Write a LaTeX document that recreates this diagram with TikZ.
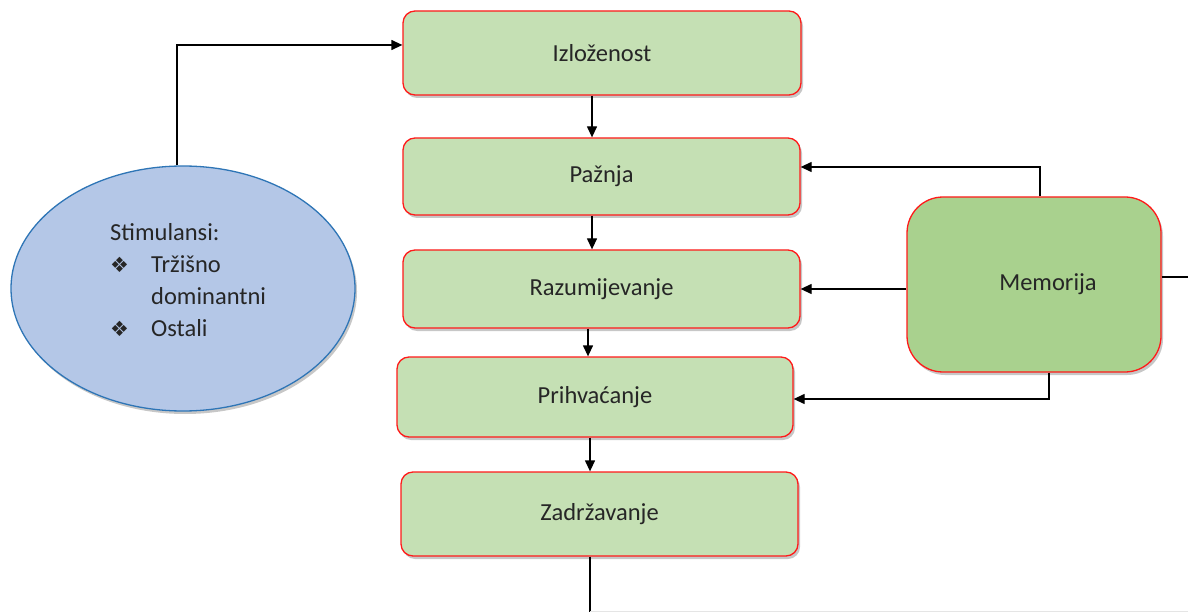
\documentclass[tikz,border=0pt]{standalone}
\usepackage{fontspec}
\setmainfont{Carlito}
\newfontfamily\dejavu{DejaVu Sans}
\usetikzlibrary{shapes.geometric,arrows.meta,shadows}
\definecolor{boxfill}{HTML}{C5E0B4}
\definecolor{memfill}{HTML}{A9D18E}
\definecolor{boxline}{HTML}{FF1A1A}
\definecolor{ellfill}{HTML}{B4C7E7}
\definecolor{ellline}{HTML}{2E75B6}
\definecolor{txt}{HTML}{262626}
\tikzset{
  shad/.style={drop shadow={shadow xshift=2pt,shadow yshift=-3pt,opacity=0.22,fill=black}},
  stepbox/.style={rectangle,rounded corners=12pt,draw=boxline,line width=1.3pt,fill=boxfill,
    shad,inner sep=0pt,text=txt,font=\fontsize{24.5}{28}\selectfont},
  membox/.style={stepbox,fill=memfill,rounded corners=36pt},
  stimell/.style={ellipse,draw=ellline,line width=1.3pt,fill=ellfill,shad,inner sep=0pt},
  conn/.style={draw=black,line width=1.3pt},
  arr/.style={conn,-{Triangle[length=11pt,width=10pt]}}
}
\begin{document}
\begin{tikzpicture}[x=1pt,y=-1pt]
\useasboundingbox (0,0) rectangle (1188,612);
\node[stepbox,minimum width=398pt,minimum height=84pt] (izl) at (602,53) {Izloženost};
\node[stepbox,minimum width=397pt,minimum height=77pt] (paz) at (601.5,176.5) {Pažnja};
\node[stepbox,minimum width=397pt,minimum height=78pt] (raz) at (601.5,289) {Razumijevanje};
\node[stepbox,minimum width=396pt,minimum height=80pt] (pri) at (595,397) {Prihvaćanje};
\node[stepbox,minimum width=397pt,minimum height=84pt] (zad) at (599.5,514) {Zadržavanje};
\node[membox,minimum width=254pt,minimum height=175pt] (mem) at (1034,284.5) {\hspace*{28pt}Memorija};
\node[stimell,minimum width=344pt,minimum height=245pt] (stim) at (183,288.5) {};
\node[text=txt,font=\fontsize{24.5}{32}\selectfont,inner sep=0pt,anchor=north west] (stimtext) at (110,218)
  {\begin{tabular}{@{}p{41pt}@{}l@{}}
   \multicolumn{2}{@{}l@{}}{Stimulansi:}\\
   {\dejavu\fontsize{21}{32}\selectfont ❖} & Tržišno\\
   & dominantni\\
   {\dejavu\fontsize{21}{32}\selectfont ❖} & Ostali
   \end{tabular}};
\coordinate (zadout) at (590,612);
\coordinate (memout) at (1188,277);
% connectors
\draw[arr] ([xshift=-6pt]stim.north) |- ([yshift=8pt]izl.west);
\draw[arr] ([xshift=-10pt]izl.south) -- ([xshift=-10pt]izl.south |- paz.north);
\draw[arr] ([xshift=-9.5pt]paz.south) -- ([xshift=-9.5pt]paz.south |- raz.north);
\draw[arr] ([xshift=-13.5pt]raz.south) -- ([xshift=-13.5pt]raz.south |- pri.north);
\draw[arr] ([xshift=-5pt]pri.south) -- ([xshift=-5pt]pri.south |- zad.north);
\draw[conn] ([xshift=-9.5pt]zad.south) -- (zadout);
\draw[black!10,line width=0.8pt] ([yshift=0.6pt]zadout) -- ([yshift=0.6pt]zadout -| memout);
\draw[arr] ([xshift=6pt]mem.north) |- ([yshift=9.5pt]paz.east);
\draw[arr] (raz.east -| mem.west) -- (raz.east);
\draw[arr] ([xshift=15pt]mem.south) |- ([yshift=-2pt]pri.east);
\draw[conn] ([yshift=7.5pt]mem.east) -- (memout);
\end{tikzpicture}
\end{document}
